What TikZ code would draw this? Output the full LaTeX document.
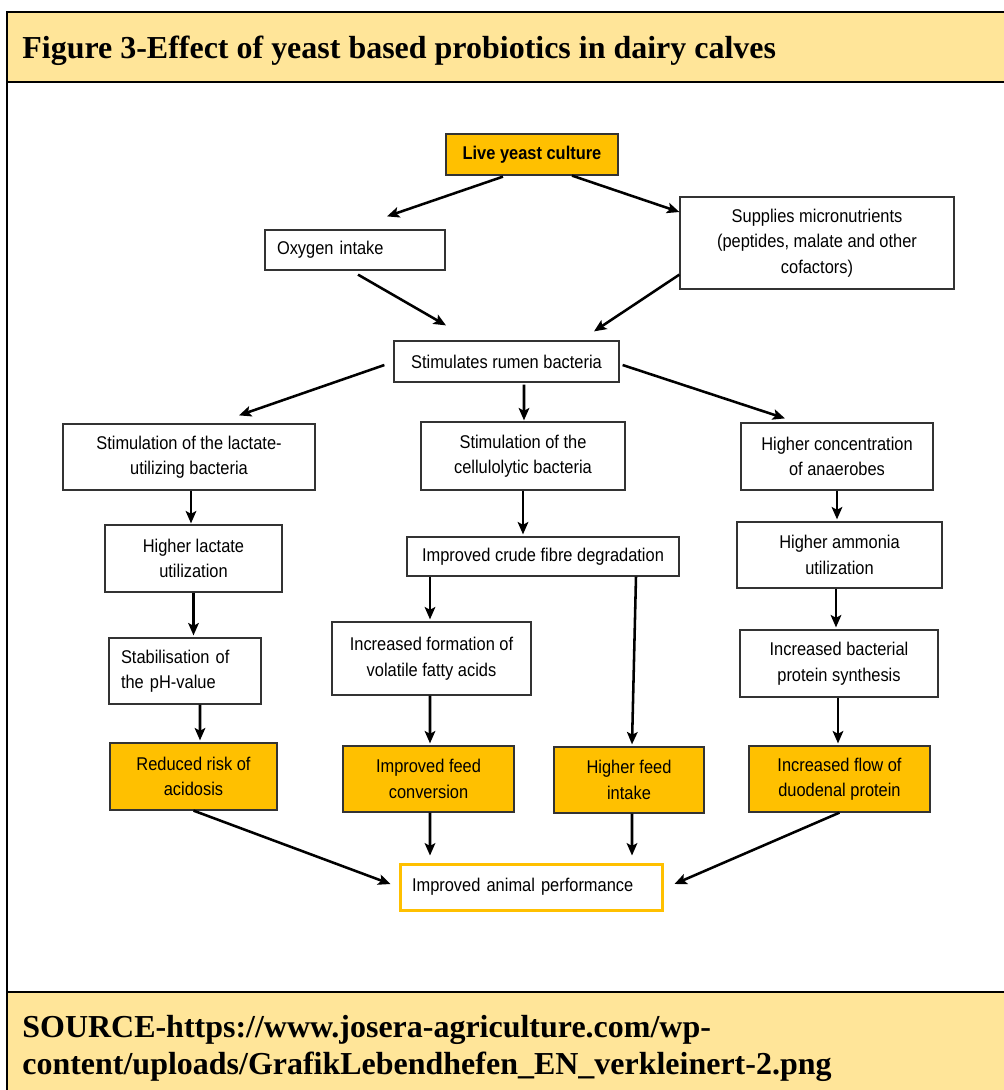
\documentclass[tikz,border=0pt]{standalone}
\usepackage{fontspec}
\setmainfont{Liberation Serif}
\newfontfamily\boxfont[FakeStretch=0.89]{Liberation Sans}
\usetikzlibrary{calc,arrows.meta}
\definecolor{paleyellow}{HTML}{FFE599}
\definecolor{gold}{HTML}{FFC000}
\definecolor{boxline}{HTML}{333333}
\begin{document}
\begin{tikzpicture}[x=0.02cm, y=-0.02cm, >={Stealth[length=7pt,width=6pt,inset=1.5pt]},
  box/.style={draw=boxline, line width=0.7pt, fill=white, align=center, inner sep=0pt,
    font=\boxfont\fontsize{10.5}{14.5}\selectfont},
  goldbox/.style={box, fill=gold},
  lbox/.style={box, align=left, inner xsep=0.24cm},
  boxsize/.style 2 args={minimum width=#1*0.02cm, minimum height=#2*0.02cm},
  arr/.style={->, line width=1.45pt},
  heading/.style={font=\fontsize{18.2}{21}\selectfont\bfseries}]
\useasboundingbox (0,0) rectangle (1004,1090);
\fill[paleyellow] (7,12) rectangle (1004,82);
\fill[paleyellow] (7,992) rectangle (1004,1090);
\draw[line width=0.9pt] (1004,12) -- (7,12) -- (7,1090);
\draw[line width=1.4pt] (7,82) -- (1004,82);
\draw[line width=1.4pt] (7,992) -- (1004,992);
\node[heading, anchor=base west, inner sep=0pt] (title) at (22,58) {Figure 3-Effect of yeast based probiotics in dairy calves};
\node[heading, anchor=base west, align=left, inner sep=0pt] (source) at (22,1074) {SOURCE-https://www.josera-agriculture.com/wp-\\content/uploads/GrafikLebendhefen\_EN\_verkleinert-2.png};

\node[goldbox, boxsize={172}{41}] (live) at (532,154.5) {\bfseries Live yeast culture};
\node[lbox, text width=3.12cm, minimum height=0.8cm] (oxygen) at (355,250) {Oxygen intake};
\node[box, boxsize={274}{92}] (supply) at (817,243) {Supplies micronutrients\\(peptides, malate and other\\cofactors)};
\node[box, boxsize={225}{41}] (rumen) at (506.5,361.5) {Stimulates rumen bacteria};

\node[box, boxsize={252}{66}] (lact) at (189,457) {Stimulation of the lactate-\\utilizing bacteria};
\node[box, boxsize={177}{67}] (lactuse) at (193.5,558.5) {Higher lactate\\utilization};
\node[lbox, text width=2.56cm, minimum height=1.32cm] (phval) at (185,671) {Stabilisation of\\the pH-value};
\node[goldbox, boxsize={167}{67}] (acid) at (193.5,776.5) {Reduced risk of\\acidosis};

\node[box, boxsize={204}{68}] (cell) at (523,456) {Stimulation of the\\cellulolytic bacteria};
\node[box, boxsize={272}{39}] (fibre) at (543,556.5) {Improved crude fibre degradation};
\node[box, boxsize={199}{73}] (vfa) at (431.5,658.5) {Increased formation of\\volatile fatty acids};
\node[goldbox, boxsize={171}{66}] (conv) at (428.5,779) {Improved feed\\conversion};
\node[goldbox, boxsize={150}{66}] (intake) at (629,780) {Higher feed\\intake};

\node[box, boxsize={192}{67}] (anaer) at (837,456.5) {Higher concentration\\of anaerobes};
\node[box, boxsize={205}{66}] (ammon) at (839.5,555) {Higher ammonia\\utilization};
\node[box, boxsize={198}{67}] (protsyn) at (839,663.5) {Increased bacterial\\protein synthesis};
\node[goldbox, boxsize={181}{66}] (duoden) at (839.5,779) {Increased flow of\\duodenal protein};

\node[lbox, draw=gold, line width=1.7pt, text width=4.78cm, minimum height=0.92cm] (perf) at (531.5,887) {Improved animal performance};

\draw[arr] ($(live.south)+(-29,1)$) -- ($(oxygen.north)+(32,-13)$);
\draw[arr] ($(live.south)+(40,0)$) -- ($(supply.west)+(0,-31)$);
\draw[arr] ($(oxygen.south)+(3,4)$) -- ($(rumen.north)+(-60.5,-15)$);
\draw[arr] ($(supply.south west)+(0,-15)$) -- ($(rumen.north)+(87.5,-9)$);
\draw[arr] ($(rumen.west)+(-9,3.5)$) -- ($(lact.north)+(50,-8)$);
\draw[arr] ($(rumen.south)+(17.5,2)$) -- ($(cell.north)+(1,-1)$);
\draw[arr] ($(rumen.east)+(3,3.5)$) -- ($(anaer.north)+(-52,-4)$);
\draw[arr] ($(lact.south)+(2,0)$) -- ($(lactuse.north)+(-2.5,-1)$);
\draw[arr] (lactuse.south) -- ($(phval.north)+(8.5,-2)$);
\draw[arr] ($(phval.south)+(15,0)$) -- ($(acid.north)+(6.5,-2)$);
\draw[arr] (cell.south) -- ($(fibre.north)+(-20,-2)$);
\draw[arr] ($(fibre.south)+(-113,0)$) -- ($(vfa.north)+(-1.5,-2)$);
\draw[arr] ($(fibre.south)+(93,0)$) -- ($(intake.north)+(3,-2)$);
\draw[arr] ($(vfa.south)+(-1.5,0)$) -- ($(conv.north)+(1.5,-2)$);
\draw[arr] (anaer.south) -- ($(ammon.north)+(-2.5,-2)$);
\draw[arr] ($(ammon.south)+(-3.5,0)$) -- ($(protsyn.north)+(-3,-2)$);
\draw[arr] ($(protsyn.south)+(-1,0)$) -- ($(duoden.north)+(-1.5,-2)$);
\draw[arr] (acid.south) -- ($(perf.west)+(-8,-3)$);
\draw[arr] ($(conv.south)+(1.5,0)$) -- ($(perf.north)+(-101.5,-7)$);
\draw[arr] ($(intake.south)+(3,0)$) -- ($(perf.north)+(100.5,-7)$);
\draw[arr] (duoden.south) -- ($(perf.east)+(10,-3)$);
\end{tikzpicture}
\end{document}
